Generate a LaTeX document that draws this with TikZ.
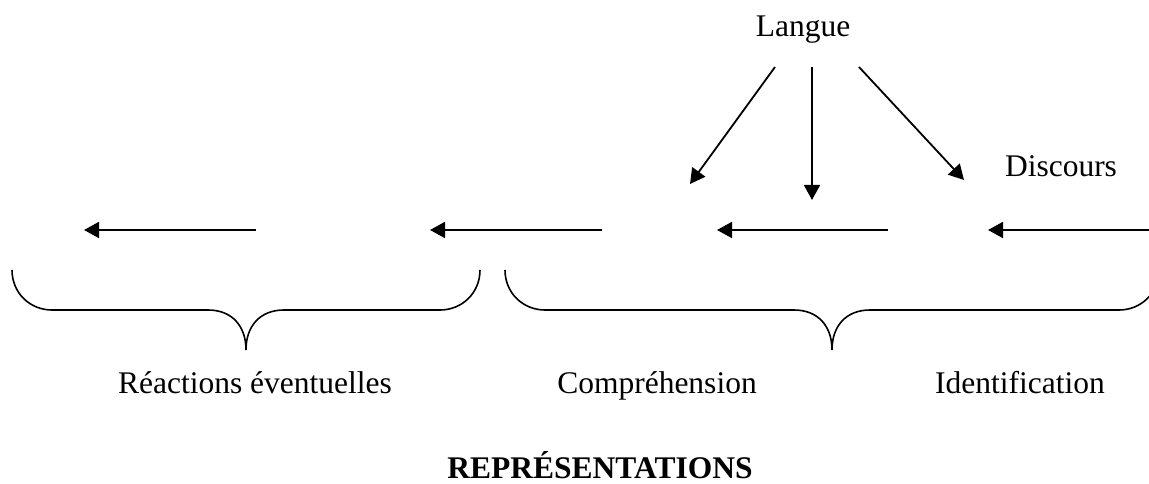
\documentclass[tikz,border=0pt]{standalone}
\usepackage{fontspec}
\setmainfont{Liberation Serif}
\usetikzlibrary{arrows.meta}
\begin{document}
\begin{tikzpicture}[x=1pt,y=-1pt,
  lbl/.style={anchor=base,inner sep=0pt,font=\fontsize{31.5}{36}\selectfont},
  arr/.style={line width=1.8pt,-{Triangle[length=15pt,width=16pt]}},
  brace/.style={line width=1.6pt}]
\useasboundingbox (0,0) rectangle (1149,484);
% labels
\node[lbl] (langue) at (803,37) {Langue};
\node[lbl] (discours) at (1061,177) {Discours};
\node[lbl] (reac) at (255,393) {Réactions éventuelles};
\node[lbl] (comp) at (657,393) {Compréhension};
\node[lbl] (ident) at (1020,393) {Identification};
\node[lbl,font=\fontsize{31.5}{36}\selectfont\bfseries] (rep) at (600,478) {REPRÉSENTATIONS};
% arrow endpoints
\coordinate (l1s) at (775,67); \coordinate (l1e) at (690,184);
\coordinate (l2s) at (812,67); \coordinate (l2e) at (812,200);
\coordinate (l3s) at (859,67); \coordinate (l3e) at (964,180);
\coordinate (h1s) at (256,230); \coordinate (h1e) at (84,230);
\coordinate (h2s) at (602,230); \coordinate (h2e) at (430,230);
\coordinate (h3s) at (888,230); \coordinate (h3e) at (717,230);
\coordinate (h4s) at (1149,230); \coordinate (h4e) at (988,230);
\draw[arr] (l1s) -- (l1e);
\draw[arr] (l2s) -- (l2e);
\draw[arr] (l3s) -- (l3e);
\draw[arr] (h1s) -- (h1e);
\draw[arr] (h2s) -- (h2e);
\draw[arr] (h3s) -- (h3e);
\draw[arr] (h4s) -- (h4e);
% braces
\coordinate (b1l) at (12,270); \coordinate (b1t) at (246,350); \coordinate (b1r) at (480,270);
\draw[brace] (b1l) .. controls (12,293) and (30,310) .. (52,310) -- (208,310)
  .. controls (232,310) and (246,326) .. (b1t)
  .. controls (246,326) and (260,310) .. (284,310) -- (440,310)
  .. controls (462,310) and (480,293) .. (b1r);
\coordinate (b2l) at (505,270); \coordinate (b2t) at (832,350); \coordinate (b2r) at (1159,270);
\draw[brace] (b2l) .. controls (505,293) and (523,310) .. (545,310) -- (794,310)
  .. controls (818,310) and (832,326) .. (b2t)
  .. controls (832,326) and (846,310) .. (870,310) -- (1119,310)
  .. controls (1141,310) and (1159,293) .. (b2r);
\end{tikzpicture}
\end{document}
